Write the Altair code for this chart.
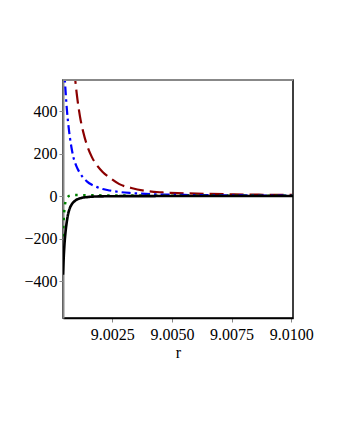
import altair as alt
import pandas as pd

r_vals = [9.00044, 9.00047, 9.0005, 9.00055, 9.0006, 9.00066, 9.00073, 9.0008, 9.00087,
          9.00095, 9.00105, 9.00115, 9.00129, 9.00145, 9.00165, 9.00185, 9.0021, 9.0024,
          9.0028, 9.0033, 9.0039, 9.0046, 9.0055, 9.0065, 9.0076, 9.0088, 9.0101]

red_vals = [2570, 2250, 1990, 1650, 1380, 1140, 935, 780, 660, 550, 450, 375, 300, 237,
            183, 146, 113, 86, 56, 38, 24, 17, 13, 10, 8, 6, 5]

blue_vals = [700, 640, 580, 490, 410, 340, 275, 225, 185, 155, 128, 108, 86, 68, 53, 43,
             33, 26, 19, 14, 10, 7, 5, 4, 3, 2.5, 2]

black_vals = [-370, -290, -230, -165, -120, -82, -56, -40, -30, -22, -15, -11, -7, -5, -3,
              -2, -1.5, -1, -0.7, -0.5, -0.3, -0.2, -0.1, 0, 0, 0, 0]

green_vals = [-190, -110, -60, -25, -10, -2, 2, 4, 4.5, 4.5, 4.5, 4.3, 4, 3.8, 3.5, 3.3,
              3, 2.8, 2.5, 2.2, 2, 1.8, 1.6, 1.4, 1.2, 1.1, 1]

x_ticks = [9.0025, 9.005, 9.0075, 9.01]
y_ticks = [-400, -200, 0, 200, 400]
x_domain = [9.00044, 9.01007]
y_domain = [-574, 546]

series = [
    ("red", red_vals, "#8B0000", [14, 6], 2.2),
    ("blue", blue_vals, "#0000FF", [9, 4, 2.5, 4], 2.2),
    ("green", green_vals, "#008000", [2.5, 5.5], 2.5),
    ("black", black_vals, "#000000", [1, 0], 2.6),
]

FONT = "Times New Roman"

x_enc = alt.X("r:Q", title="r",
              scale=alt.Scale(domain=x_domain, nice=False, zero=False),
              axis=alt.Axis(values=x_ticks, format=".4f", labelFontSize=16,
                            labelColor="black", titleFontSize=16,
                            titleFontWeight="normal", titleColor="black", titlePadding=2,
                            domainColor="black", domainWidth=1.5, tickColor="#888888",
                            tickSize=4, labelPadding=4, grid=False, labelFlush=False))
y_enc = alt.Y("v:Q", title=None,
              scale=alt.Scale(domain=y_domain, nice=False, zero=False),
              axis=alt.Axis(values=y_ticks, labelFontSize=16,
                            labelColor="black", domainColor="#888888", domainWidth=2,
                            tickColor="#888888", tickSize=4, labelPadding=2, grid=False))

layers = []
for name, vals, color, dash, w in series:
    df = pd.DataFrame({"r": r_vals, "v": vals})
    layers.append(
        alt.Chart(df).mark_line(color=color, strokeDash=dash, strokeWidth=w, clip=True,
                                interpolate="monotone")
        .encode(x=x_enc, y=y_enc)
    )

top_line = alt.Chart(pd.DataFrame({"a": [0]})).mark_rule(color="#888888", strokeWidth=2).encode(
    x=alt.value(0), x2=alt.value(230), y=alt.value(0))

chart = alt.layer(*layers, top_line).properties(
    width=230, height=238,
    autosize=alt.AutoSizeParams(type="none"),
    padding={"left": 55, "top": 72, "right": 30, "bottom": 100},
).configure_view(stroke="black", strokeWidth=1.5).configure_axis(
    labelFont=FONT, titleFont=FONT)

chart.save("out.html", embed_options={"renderer": "svg", "actions": False})
